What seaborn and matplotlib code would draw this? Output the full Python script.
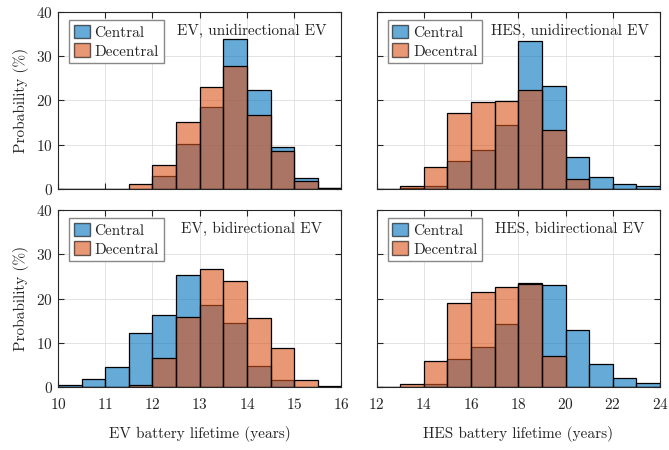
import matplotlib
matplotlib.use("Agg")
import matplotlib.pyplot as plt
from matplotlib.patches import Patch
import seaborn as sns
import pandas as pd

# bin edges (years)
ev_edges = [10.0, 10.5, 11.0, 11.5, 12.0, 12.5, 13.0, 13.5, 14.0, 14.5, 15.0, 15.5, 16.0]
hes_edges = [12, 13, 14, 15, 16, 17, 18, 19, 20, 21, 22, 23, 24]

# probabilities (%) per bin
ev_uni_central = [0, 0, 0, 0, 2.9, 10.2, 18.6, 33.9, 22.4, 9.4, 2.4, 0.15]
ev_uni_decentral = [0, 0, 0, 1.1, 5.4, 15.1, 23.0, 27.8, 16.7, 8.6, 1.9, 0.15]
hes_uni_central = [0, 0.3, 0.7, 6.4, 8.8, 14.5, 33.4, 23.2, 7.2, 2.7, 1.2, 0.6]
hes_uni_decentral = [0, 0.6, 5.0, 17.1, 19.6, 19.9, 22.4, 13.3, 2.3, 0, 0, 0]
ev_bi_central = [0.4, 1.8, 4.5, 12.3, 16.2, 25.3, 18.5, 14.4, 4.7, 1.6, 0, 0]
ev_bi_decentral = [0, 0, 0, 0.45, 6.5, 15.8, 26.7, 23.9, 15.6, 8.8, 1.6, 0.3]
hes_bi_central = [0, 0, 0.6, 6.3, 9.1, 14.2, 23.5, 23.0, 12.9, 5.2, 2.0, 0.9]
hes_bi_decentral = [0, 0.6, 5.9, 18.9, 21.5, 22.7, 23.3, 7.0, 0, 0, 0, 0]

titles = ["EV, unidirectional EV", "HES, unidirectional EV",
          "EV, bidirectional EV", "HES, bidirectional EV"]
series_names = ["Central", "Decentral"]
x_labels = ["EV battery lifetime (years)", "HES battery lifetime (years)"]

blue = "#0072BD"
orange = "#D95319"

sns.set_style("ticks")
plt.rcParams["font.family"] = ["cmr10", "DejaVu Serif"]
plt.rcParams["mathtext.fontset"] = "cm"
plt.rcParams["axes.formatter.use_mathtext"] = True
plt.rcParams["font.size"] = 11


def centers(edges):
    return [(a + b) / 2 for a, b in zip(edges[:-1], edges[1:])]


panels = [
    (ev_edges, ev_uni_central, ev_uni_decentral),
    (hes_edges, hes_uni_central, hes_uni_decentral),
    (ev_edges, ev_bi_central, ev_bi_decentral),
    (hes_edges, hes_bi_central, hes_bi_decentral),
]

fig, axes = plt.subplots(2, 2, figsize=(6.69, 4.5), dpi=100)
fig.subplots_adjust(left=58 / 669, right=660 / 669, top=1 - 12 / 450,
                    bottom=1 - 387 / 450, wspace=0.1235, hspace=0.119)

for i, (ax, (edges, central, decentral)) in enumerate(zip(axes.flat, panels)):
    df = pd.DataFrame({"x": centers(edges), "central": central, "decentral": decentral})
    for col, color in [("central", blue), ("decentral", orange)]:
        sns.histplot(data=df, x="x", weights=col, bins=edges, color=color,
                     alpha=0.6, edgecolor="black", linewidth=0.9, ax=ax, zorder=2)
    ax.set_xlim(edges[0], edges[-1])
    ax.set_ylim(0, 40)
    ax.set_yticks([0, 10, 20, 30, 40])
    if edges[0] == 10:
        ax.set_xticks([10, 11, 12, 13, 14, 15, 16])
    else:
        ax.set_xticks([12, 14, 16, 18, 20, 22, 24])
    ax.grid(True, color="#dedede", linewidth=0.6, zorder=0)
    ax.set_axisbelow(True)
    ax.tick_params(direction="in", top=True, right=True, length=4,
                   width=0.8, labelsize=11)
    ax.tick_params(axis="x", pad=7)
    for s in ax.spines.values():
        s.set_visible(True)
        s.set_linewidth(0.8)
        s.set_color("#262626")
    if i % 2 == 0:
        ax.set_ylabel("Probability (%)", fontsize=11, labelpad=5)
    else:
        ax.set_ylabel("")
        ax.tick_params(labelleft=False)
    if i < 2:
        ax.set_xlabel("")
        ax.tick_params(labelbottom=False)
    else:
        ax.set_xlabel(x_labels[i - 2], fontsize=11, labelpad=10)
    ax.text(0.682, 0.893, titles[i], transform=ax.transAxes, ha="center",
            va="center", fontsize=11)
    handles = [Patch(facecolor=blue, alpha=0.6, edgecolor="black"),
               Patch(facecolor=orange, alpha=0.6, edgecolor="black")]
    leg = ax.legend(handles, series_names, loc="upper left",
                    bbox_to_anchor=(0.04, 0.955), borderaxespad=0,
                    fancybox=False, framealpha=1, edgecolor="#888888",
                    fontsize=11, handlelength=1.05, handleheight=1.0,
                    handletextpad=0.3, labelspacing=0.25, borderpad=0.3)
    leg.get_frame().set_linewidth(1.0)

fig.savefig("out.png", dpi=100)
